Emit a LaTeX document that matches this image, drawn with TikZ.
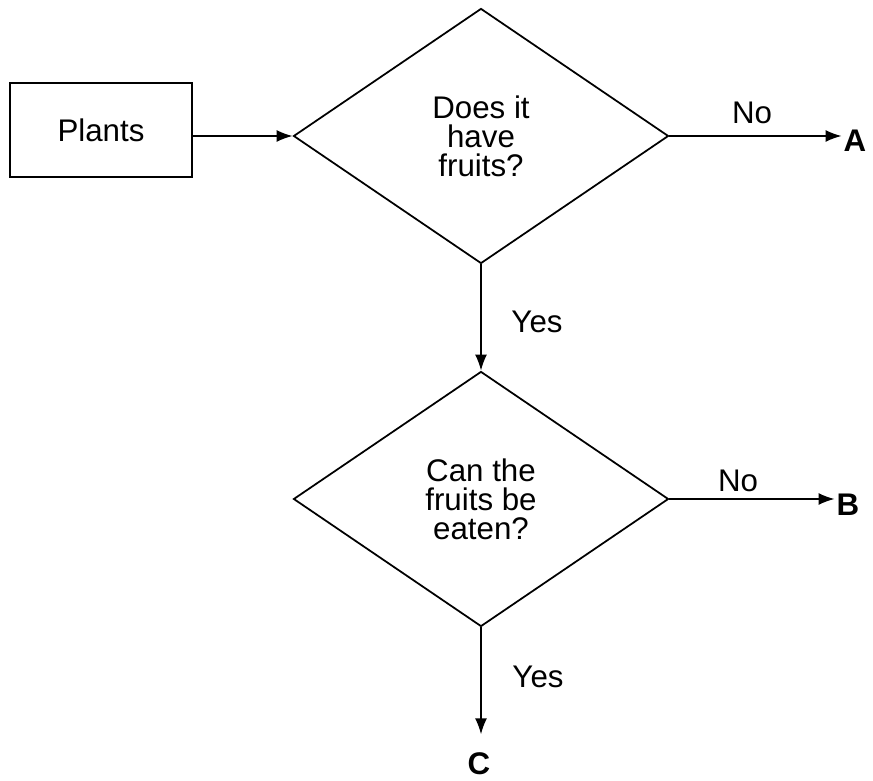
\documentclass[tikz,border=0pt]{standalone}
\usepackage{fontspec}
\setmainfont{Liberation Sans}
\usetikzlibrary{shapes.geometric,arrows.meta}

\begin{document}
\begin{tikzpicture}[x=0.2mm,y=-0.2mm,
  every node/.style={font=\fontsize{17.8}{16.5}\selectfont},
  box/.style={draw,line width=1pt,minimum width=36.4mm,minimum height=18.8mm,inner sep=0pt},
  question/.style={draw,diamond,line width=1pt,aspect=1.47,minimum width=75mm,minimum height=51mm,inner sep=0pt,align=center},
  arr/.style={line width=1pt,-{Latex[length=3.2mm,width=2.4mm]}},
  leaf/.style={font=\fontsize{17.8}{20}\selectfont\bfseries,inner sep=1pt}]
\useasboundingbox (0,0) rectangle (873,781);

\node[box] (plants) at (101,130) {Plants};
\node[question] (q1) at (481,136) {Does it\\have\\fruits?};
\node[question] (q2) at (481,499) {Can the\\fruits be\\eaten?};

\node[leaf] (A) at (855,141) {A};
\node[leaf] (B) at (848,505) {B};
\node[leaf] (C) at (479,764) {C};

\node (no1) at (752,113) {No};
\node (yes1) at (537,322) {Yes};
\node (no2) at (738,481) {No};
\node (yes2) at (538,677) {Yes};

\draw[arr] (plants.east |- q1.west) -- (q1.west);
\draw[arr] (q1.east) -- (q1.east -| A.west);
\draw[arr] (q1.south) -- (q2.north);
\draw[arr] (q2.east) -- (q2.east -| B.west);
\draw[arr] (q2.south) -- ++(0,107);
\end{tikzpicture}
\end{document}
